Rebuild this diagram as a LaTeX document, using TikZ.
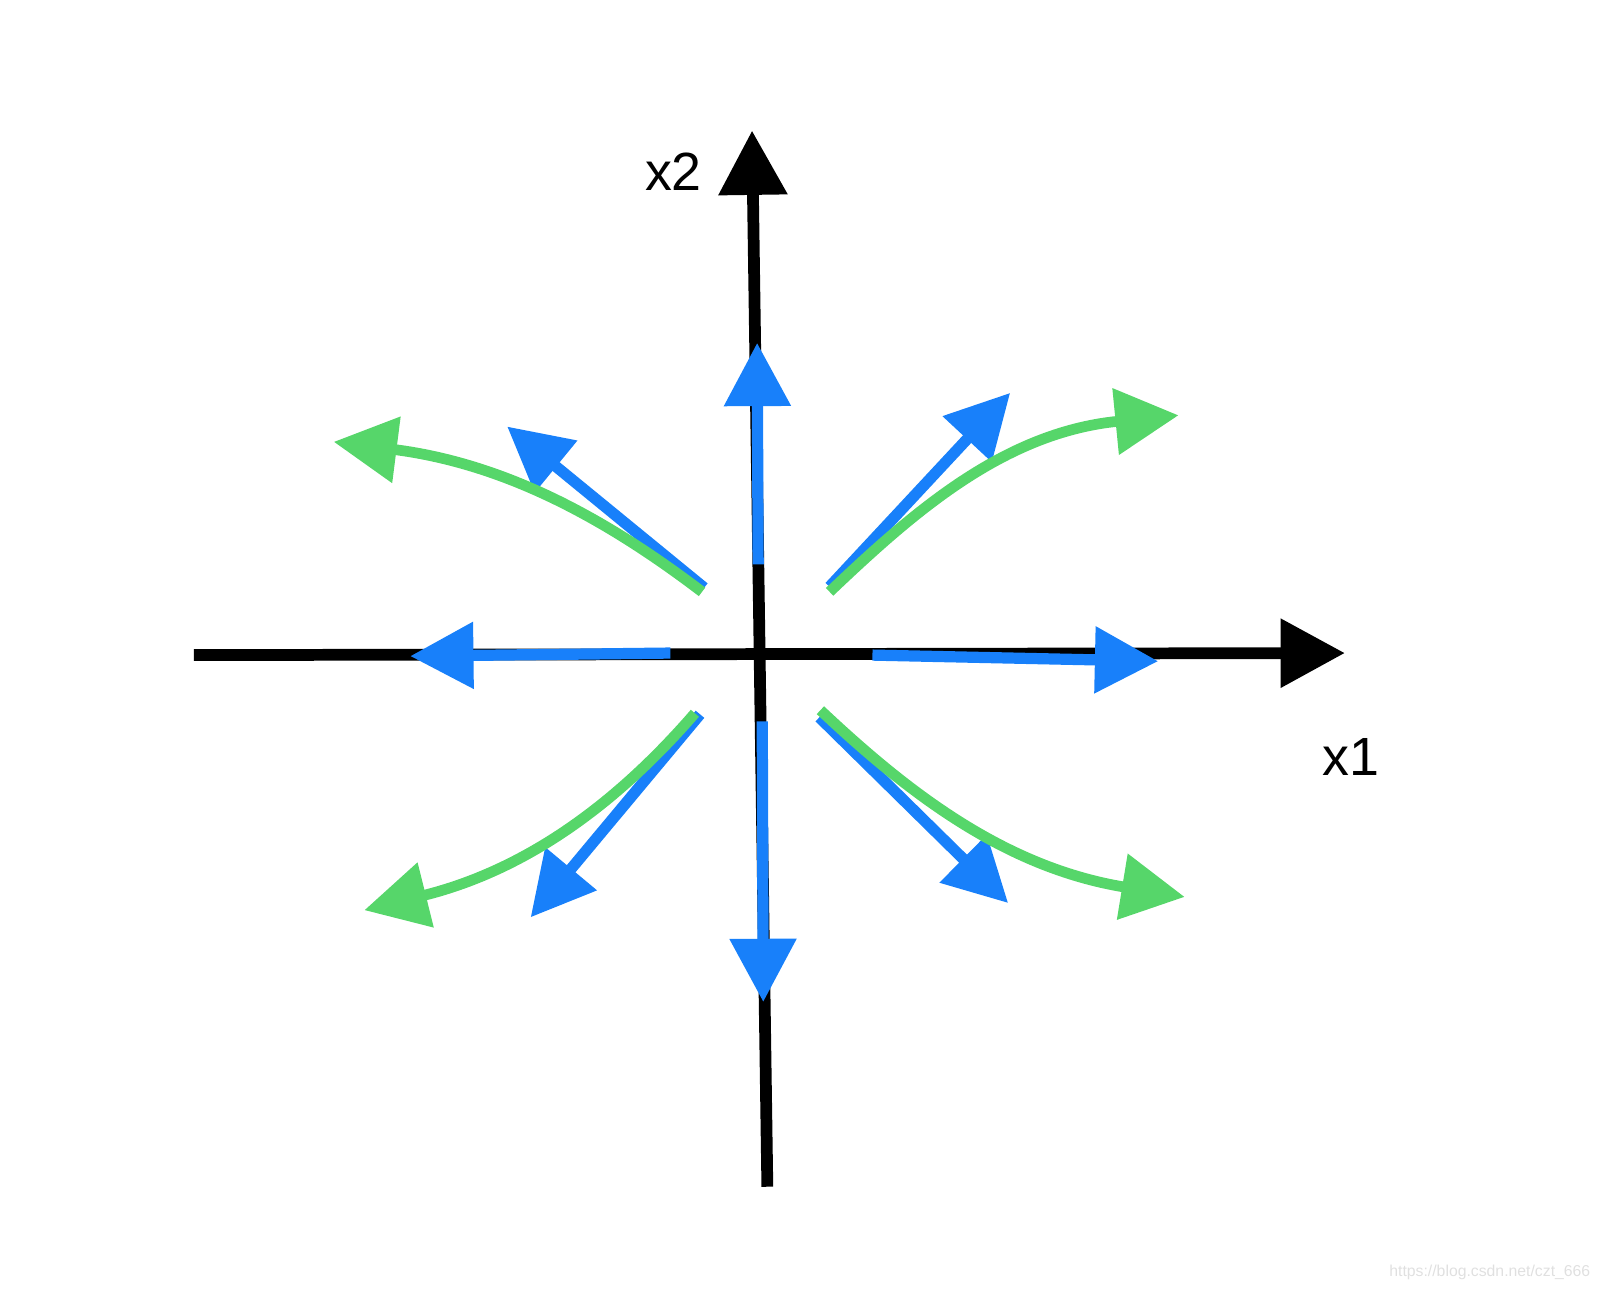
\documentclass[tikz,border=0pt]{standalone}
\usepackage{fontspec}
\setmainfont{Liberation Sans}
\usepackage{tikz}
\usetikzlibrary{arrows.meta}

\definecolor{vecblue}{RGB}{24,128,250}
\definecolor{flowgreen}{RGB}{86,214,106}

\begin{document}
\begin{tikzpicture}[x=0.1mm, y=-0.1mm,
    axis/.style={draw=black, line width=1.15mm, -{Triangle[length=6.3mm, width=6.5mm]}},
    vec/.style={draw=vecblue, line width=1.1mm, -{Triangle[length=6.2mm, width=6.3mm]}},
    flow/.style={draw=flowgreen, line width=1.05mm, -{Triangle[length=6.2mm, width=6.3mm]}}]
    \useasboundingbox (0,0) rectangle (1568,1264);

    % axes
    \coordinate (xl) at (190,642);
    \coordinate (xr) at (1318,640);
    \coordinate (yb) at (752,1163);
    \coordinate (yt) at (737,128);
    \draw[axis] (xl) -- (xr);
    \draw[axis] (yb) -- (yt);
    \node (lx1) at (1324,742) {\fontsize{15}{18}\selectfont x1};
    \node (lx2) at (660,168) {\fontsize{15}{18}\selectfont x2};

    % straight vectors
    \coordinate (nS) at (743,553);  \coordinate (nE) at (742,336);
    \coordinate (sS) at (747,707);  \coordinate (sE) at (748,982);
    \coordinate (wS) at (657,640);  \coordinate (wE) at (402,643);
    \coordinate (eS) at (855,642);  \coordinate (eE) at (1135,648);
    \coordinate (nwS) at (690,576); \coordinate (nwE) at (497,418);
    \coordinate (neS) at (813,575); \coordinate (neE) at (990,385);
    \coordinate (swS) at (686,700); \coordinate (swE) at (520,899);
    \coordinate (seS) at (803,703); \coordinate (seE) at (988,885);
    \foreach \d in {n,s,w,e,nw,ne,sw,se}
        \draw[vec] (\d S) -- (\d E);

    % curved flows
    \coordinate (fnwS) at (688,580); \coordinate (fnwE) at (327,433);
    \coordinate (fneS) at (813,580); \coordinate (fneE) at (1155,407);
    \coordinate (fswS) at (681,699); \coordinate (fswE) at (357,892);
    \coordinate (fseS) at (804,696); \coordinate (fseE) at (1161,879);
    \draw[flow] (fnwS) .. controls (600,513) and (500,455) .. (fnwE);
    \draw[flow] (fneS) .. controls (894,503) and (983,424) .. (fneE);
    \draw[flow] (fswS) .. controls (610,781) and (522,851) .. (fswE);
    \draw[flow] (fseS) .. controls (889,776) and (984,850) .. (fseE);

    \node[text=black!12] (mark) at (1460,1247) {\fontsize{4.4}{5}\selectfont https://blog.csdn.net/czt\_666};
\end{tikzpicture}
\end{document}
